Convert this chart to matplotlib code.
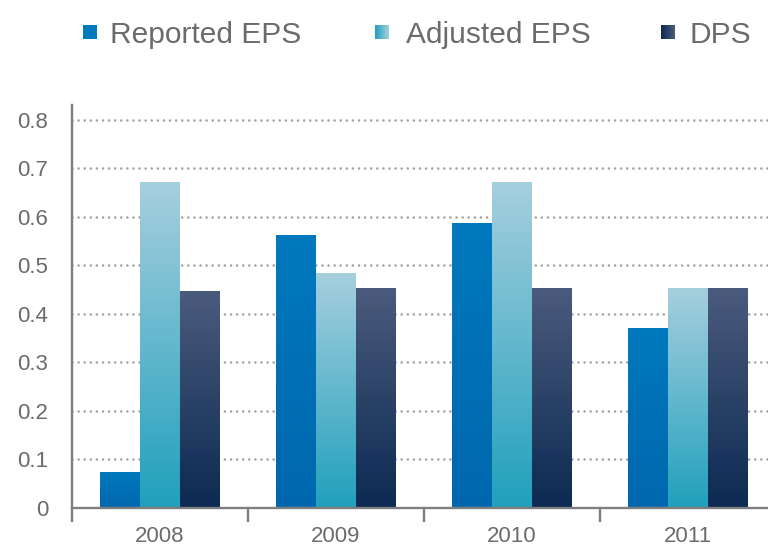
import numpy as np
import matplotlib
matplotlib.use("Agg")
import matplotlib.pyplot as plt
from matplotlib.colors import LinearSegmentedColormap

plt.rcParams['font.family'] = ['Liberation Sans', 'DejaVu Sans']

years = ["2008", "2009", "2010", "2011"]
reported_eps = [0.074, 0.563, 0.588, 0.371]
adjusted_eps = [0.671, 0.484, 0.672, 0.453]
dps = [0.447, 0.453, 0.453, 0.453]

series_names = ["Reported EPS", "Adjusted EPS", "DPS"]
series_values = [reported_eps, adjusted_eps, dps]
# (bottom colour, top colour) for each series' vertical gradient
series_grad = [("#0067ae", "#0079be"),
               ("#20a0bc", "#a6cfde"),
               ("#0c2a52", "#4b5b7d")]

TEXT = "#6b6b6b"
AXIS = "#7f7f7f"

fig = plt.figure(figsize=(7.68, 5.45), dpi=100)
ax = fig.add_axes([0.0934, 0.0679, 0.9066, 0.7394])

x = np.arange(len(years))
width = 0.227
offsets = [-width, 0.0, width]

grad = np.linspace(0, 1, 256).reshape(-1, 1)
for vals, off, (c0, c1) in zip(series_values, offsets, series_grad):
    cmap = LinearSegmentedColormap.from_list("g", [c0, c1])
    bars = ax.bar(x + off, vals, width, color="none", edgecolor="none", zorder=3)
    for b in bars:
        x0, y0 = b.get_x(), b.get_y()
        w, h = b.get_width(), b.get_height()
        im = ax.imshow(grad, cmap=cmap, origin="lower", aspect="auto",
                       extent=[x0, x0 + w, y0, y0 + h], zorder=3,
                       interpolation="bilinear")
        im.set_clip_path(b)

# horizontal dotted grid
ax.set_yticks(np.arange(0, 0.81, 0.1))
ax.set_yticklabels(["0"] + [f"{v:.1f}" for v in np.arange(0.1, 0.81, 0.1)])
ax.yaxis.grid(True, color="#a3a3a3", linewidth=1.9,
              linestyle=(0, (0.01, 2.3)), dash_capstyle="round", zorder=1)
ax.set_axisbelow(True)

# category separators as major ticks, year labels as minor ticks
ax.set_xticks(np.arange(-0.5, 3.6, 1.0))
ax.set_xticklabels([])
ax.set_xticks(x, minor=True)
ax.set_xticklabels(years, minor=True)
ax.tick_params(axis="x", which="major", length=10, width=1.7, color=AXIS,
               direction="out")
ax.tick_params(axis="x", which="minor", length=0, pad=13, labelsize=16,
               labelcolor=TEXT)
ax.tick_params(axis="y", length=0, pad=17, labelsize=16, labelcolor=TEXT)

ax.set_xlim(-0.5, 3.456)
ax.set_ylim(0, 0.83)

for side in ("top", "right"):
    ax.spines[side].set_visible(False)
for side in ("left", "bottom"):
    ax.spines[side].set_color(AXIS)
    ax.spines[side].set_linewidth(1.7)
    ax.spines[side].set_zorder(4)

# legend across the top
W, H = 768.0, 545.0
leg_marker_x = [83, 375, 661]
leg_text_x = [110, 406, 689]
leg_cy = 32
msize = 14
leg_grad = np.linspace(0, 1, 64).reshape(1, -1)
for name, (c0, c1), mx, tx in zip(series_names, series_grad, leg_marker_x, leg_text_x):
    lax = fig.add_axes([mx / W, 1 - (leg_cy + msize / 2) / H, msize / W, msize / H])
    if name == "Reported EPS":
        cm = LinearSegmentedColormap.from_list("l", [c1, c1])
    else:
        cm = LinearSegmentedColormap.from_list("l", [c0, c1])
    lax.imshow(leg_grad, cmap=cm, aspect="auto", interpolation="bilinear")
    lax.axis("off")
    fig.text(tx / W, 1 - leg_cy / H, name, fontsize=21.5, color=TEXT,
             ha="left", va="center_baseline")

fig.savefig("out.png", dpi=100)
